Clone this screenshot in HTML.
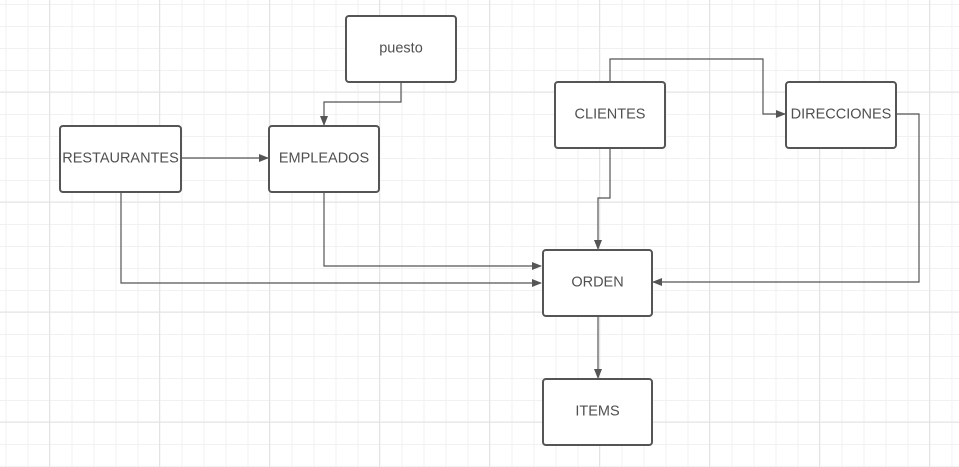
<!DOCTYPE html>
<html><head><style>
html,body{margin:0;padding:0;background:#fff;}
svg{display:block;}
text{font-family:"Liberation Sans",sans-serif;font-size:14.5px;fill:#505050;text-anchor:middle;dominant-baseline:central;}
</style></head><body>
<svg width="959" height="467" xmlns="http://www.w3.org/2000/svg">
<defs>
<pattern id="minor" x="5.5" y="4" width="22" height="22" patternUnits="userSpaceOnUse">
<path d="M0 0.5H22M0.5 0V22" stroke="#f1f1f1" stroke-width="1" fill="none"/>
</pattern>
<pattern id="major" x="49" y="91.5" width="110" height="110" patternUnits="userSpaceOnUse">
<path d="M0 0.5H110M0.5 0V110" stroke="#e3e3e3" stroke-width="1" fill="none"/>
</pattern>
<marker id="a" markerWidth="10" markerHeight="8" refX="9" refY="4" orient="auto" markerUnits="userSpaceOnUse">
<path d="M0 0L10 4L0 8z" fill="#555"/>
</marker>
</defs>
<rect width="959" height="467" fill="url(#minor)"/>
<rect width="959" height="467" fill="url(#major)"/>
<g fill="none" stroke="#555" stroke-width="1.2">
<path d="M181 158H268" marker-end="url(#a)"/>
<path d="M401 82V102H324V125" marker-end="url(#a)"/>
<path d="M610 82V59H763V114H785" marker-end="url(#a)"/>
<path d="M610 148V198H598V249" marker-end="url(#a)"/>
<path d="M324 192V266H541" marker-end="url(#a)"/>
<path d="M121 192V283H541" marker-end="url(#a)"/>
<path d="M896 114H919V282H653" marker-end="url(#a)"/>
<path d="M598 316V378" marker-end="url(#a)"/>
</g>
<g fill="#fff" stroke="#555" stroke-width="2">
<rect x="60" y="126" width="121" height="66" rx="3"/>
<rect x="269" y="126" width="110" height="66" rx="3"/>
<rect x="346" y="16" width="110" height="66" rx="3"/>
<rect x="555" y="82" width="110" height="66" rx="3"/>
<rect x="786" y="82" width="110" height="66" rx="3"/>
<rect x="543" y="250" width="109" height="66" rx="3"/>
<rect x="543" y="379" width="109" height="66" rx="3"/>
</g>
<text x="120.5" y="158.5">RESTAURANTES</text>
<text x="324" y="158.5">EMPLEADOS</text>
<text x="401" y="48.5">puesto</text>
<text x="610" y="114.5">CLIENTES</text>
<text x="841" y="114.5">DIRECCIONES</text>
<text x="597.5" y="282.5">ORDEN</text>
<text x="597.5" y="411.5">ITEMS</text>
</svg>
</body></html>
